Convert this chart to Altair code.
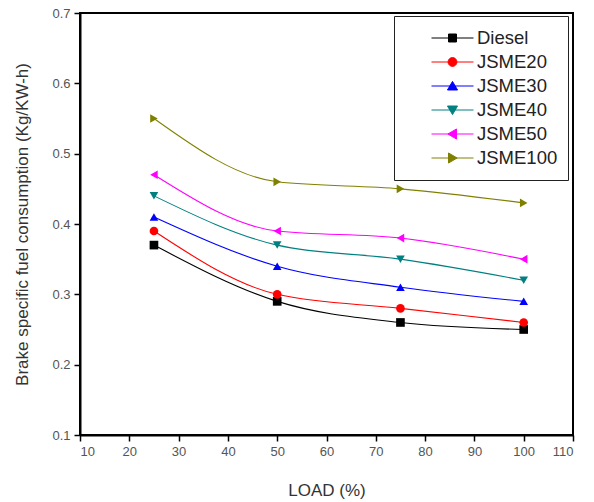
import altair as alt
import pandas as pd

loads = [25, 50, 75, 100]
series = ["Diesel", "JSME20", "JSME30", "JSME40", "JSME50", "JSME100"]
diesel = [0.37, 0.29, 0.26, 0.25]
jsme20 = [0.39, 0.30, 0.28, 0.26]
jsme30 = [0.41, 0.34, 0.31, 0.29]
jsme40 = [0.44, 0.37, 0.35, 0.32]
jsme50 = [0.47, 0.39, 0.38, 0.35]
jsme100 = [0.55, 0.46, 0.45, 0.43]
colors = ["#000000", "#ff0000", "#0000ff", "#008080", "#ff00ff", "#808000"]
shapes = ["square", "circle", "triangle-up", "triangle-down", "triangle-left", "triangle-right"]
x_ticks = list(range(10, 111, 5))
y_ticks = [round(0.1 + 0.05 * i, 2) for i in range(13)]

# legend glyphs: short line with the marker in the middle
legend_glyphs = [
    "M-1,0H1M-0.19,-0.19H0.19V0.19H-0.19Z",
    "M-1,0H1M-0.21,0A0.21,0.21 0 1,0 0.21,0A0.21,0.21 0 1,0 -0.21,0Z",
    "M-1,0H1M0,-0.22L0.24,0.19L-0.24,0.19Z",
    "M-1,0H1M0,0.22L0.24,-0.19L-0.24,-0.19Z",
    "M-1,0H1M-0.22,0L0.19,-0.24L0.19,0.24Z",
    "M-1,0H1M0.22,0L-0.19,-0.24L-0.19,0.24Z",
]

values = [diesel, jsme20, jsme30, jsme40, jsme50, jsme100]
rows = []
for name, vals in zip(series, values):
    for ld, v in zip(loads, vals):
        rows.append({"load": ld, "bsfc": v, "series": name})
df = pd.DataFrame(rows)

FONT = "Liberation Sans"

x_enc = alt.X(
    "load:Q",
    title="LOAD (%)",
    scale=alt.Scale(domain=[10, 110], nice=False, zero=False),
    axis=alt.Axis(
        values=x_ticks,
        labelExpr="datum.value % 10 === 0 ? datum.label : ''",
        tickSize={"condition": {"test": "datum.value % 10 === 0", "value": 6}, "value": 3},
        grid=False,
        titlePadding=24,
    ),
)
y_enc = alt.Y(
    "bsfc:Q",
    title="Brake specific fuel consumption (Kg/KW-h)",
    scale=alt.Scale(domain=[0.1, 0.7], nice=False, zero=False),
    axis=alt.Axis(
        values=y_ticks,
        format=".1f",
        labelExpr="round(datum.value * 100) % 10 === 0 ? datum.label : ''",
        tickSize={"condition": {"test": "round(datum.value * 100) % 10 === 0", "value": 6}, "value": 3},
        grid=False,
        titlePadding=20,
    ),
)

layers = []
for i, (name, col, shp) in enumerate(zip(series, colors, shapes)):
    base = alt.Chart(df).transform_filter(alt.datum.series == name)
    layers.append(
        base.mark_line(interpolate="monotone", strokeWidth=1.1, color=col).encode(
            x=x_enc if i == 0 else alt.X("load:Q"),
            y=y_enc if i == 0 else alt.Y("bsfc:Q"),
        )
    )
    layers.append(
        base.mark_point(filled=True, opacity=1, size=75, shape=shp, color=col).encode(
            x="load:Q",
            y="bsfc:Q",
        )
    )

legend_def = alt.Legend(
    title=None,
    orient="none",
    legendX=314,
    legendY=3,
    padding=10,
    symbolSize=1764,
    symbolStrokeWidth=1,
    symbolOffset=27,
    labelOffset=3,
    clipHeight=24,
    rowPadding=0,
    labelFontSize=18.5,
    labelFont=FONT,
    labelColor="#222222",
    strokeColor="#222222",
    fillColor="#ffffff",
    symbolOpacity=1,
)

# invisible marks (size 0) that only carry the legend
legend_layer = alt.Chart(df).mark_point(
    filled=True, strokeWidth=1, size=0
).encode(
    x="load:Q",
    y="bsfc:Q",
    fill=alt.Fill("series:N", scale=alt.Scale(domain=series, range=colors), legend=legend_def),
    stroke=alt.Stroke("series:N", scale=alt.Scale(domain=series, range=colors), legend=legend_def),
    shape=alt.Shape("series:N", scale=alt.Scale(domain=series, range=legend_glyphs), legend=legend_def),
)

chart = (
    alt.layer(*layers, legend_layer)
    .properties(
        width=493,
        height=422,
        padding={"left": 80, "top": 13, "right": 21, "bottom": 67},
        autosize=alt.AutoSizeParams(type="none"),
        background="#ffffff",
    )
    .configure_view(stroke="#000000", strokeWidth=2)
    .configure_axis(
        domainColor="#000000",
        domainWidth=2,
        tickColor="#000000",
        tickWidth=1.5,
        labelFont=FONT,
        labelFontSize=13,
        labelColor="#555555",
        labelPadding=4,
        titleFont=FONT,
        titleFontSize=17,
        titleFontWeight="normal",
        titleColor="#333333",
    )
)

chart.save("out.html", embed_options={"renderer": "svg", "actions": False})
